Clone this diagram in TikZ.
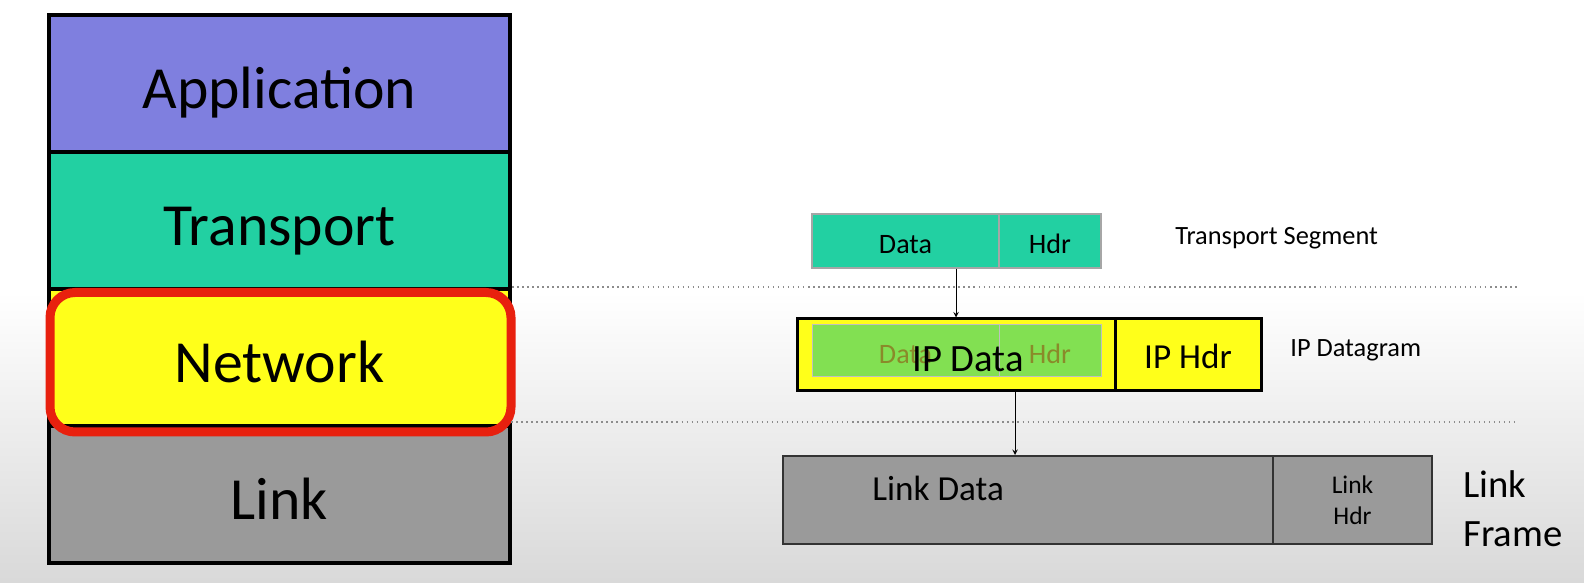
\documentclass[tikz,border=0pt]{standalone}
\usepackage{fontspec}
\setmainfont{Carlito}
\usetikzlibrary{calc}

\definecolor{appblue}{HTML}{7F7FDF}
\definecolor{transgreen}{HTML}{22D0A2}
\definecolor{netyellow}{HTML}{FFFF1A}
\definecolor{linkgray}{HTML}{9A9A9A}
\definecolor{overgreen}{HTML}{82E052}
\definecolor{olive}{HTML}{8A8A2A}
\definecolor{framered}{HTML}{E8200E}

\tikzset{
  layer/.style={rectangle,draw=black,line width=0.85mm,minimum width=92.2mm,minimum height=27.4mm,text height=29pt,text depth=0pt,font=\fontsize{34}{40}\selectfont},
  tseg/.style={rectangle,draw=black!35,line width=0.25mm,fill=transgreen,minimum height=10.8mm,text height=13.8pt,text depth=0pt,font=\fontsize{16}{19}\selectfont},
  ipbox/.style={rectangle,draw=black,line width=0.6mm,fill=netyellow,minimum height=14.4mm,text height=15.5pt,text depth=0pt,font=\fontsize{20}{24}\selectfont},
  over/.style={rectangle,draw=black!25,line width=0.2mm,fill=overgreen,minimum height=10.4mm,text height=13.8pt,text depth=0pt,text=olive,font=\fontsize{16}{19}\selectfont},
  lframe/.style={rectangle,draw=black!80,line width=0.4mm,fill=linkgray,minimum height=17.6mm},
  pdulabel/.style={inner sep=0pt,align=left},
  sep/.style={dotted,black!45,line width=0.3mm},
}

\begin{document}
\begin{tikzpicture}[x=0.2mm,y=-0.2mm]
      \useasboundingbox (0,0) rectangle (1584,583);
      \shade [top color=white,bottom color=black!15,middle color=white] (0,0) rectangle (1584,583);

      % protocol stack
      \node (app) [layer,fill=appblue] at (279.5,83.5) {Application};
      \node (trans) [layer,fill=transgreen] at (279.5,220.5) {Transport};
      \node (link) [layer,fill=linkgray] at (279.5,494.5) {Link};
      \node (net) [layer,fill=netyellow] at (279.5,357.5) {Network};
      \draw [framered,line width=1.8mm,rounded corners=5mm] (50,292.5) rectangle (511,432);

      % layer separators
      \coordinate (s1) at (net.north east);
      \coordinate (s2) at (511,422);
      \draw [sep] (s1) -- ($ (s1)+(1006,0) $);
      \draw [sep] (s2) -- ($ (s2)+(1006,0) $);

      % transport segment
      \node (tdata) [tseg,minimum width=37.4mm] at (905.5,241) {Data};
      \node (thdr) [tseg,minimum width=20.4mm] at (1050,241) {Hdr};
      \node (tlab) [pdulabel,anchor=base west,font=\fontsize{15}{18}\selectfont] at (1175,245) {Transport Segment};

      % ip datagram
      \node (ipdata) [ipbox,minimum width=63.6mm] at (956,355) {};
      \node (iphdr) [ipbox,minimum width=29.2mm] at (1188,355) {IP Hdr};
      \node (odata) [over,minimum width=37.4mm] at (905.5,351) {Data};
      \node (ohdr) [over,minimum width=20.4mm] at (1050,351) {Hdr};
      \node (iptext) [inner sep=0pt,anchor=base,font=\fontsize{22}{26}\selectfont] at (968,372) {IP Data};
      \node (iplab) [pdulabel,anchor=base west,font=\fontsize{15}{18}\selectfont] at (1290,357) {IP Datagram};

      % link frame
      \node (ldata) [lframe,minimum width=98mm] at (1028,500) {};
      \node (lhdr) [lframe,minimum width=31.8mm,align=center,font=\fontsize{14.5}{17.6}\selectfont] at (1352.5,500) {Link\\Hdr};
      \node (ltext) [inner sep=0pt,anchor=base west,font=\fontsize{20}{24}\selectfont] at (872,500) {Link Data};
      \node (llab) [pdulabel,anchor=west,font=\fontsize{22}{27.8}\selectfont] at (1463,509) {Link\\Frame};

      % encapsulation
      \draw [->,>=stealth] (ipdata.north |- tdata.south) -- (ipdata.north);
      \coordinate (a2) at (1015,391);
      \draw [->,>=stealth] (a2) -- (a2 |- ldata.north);
    \end{tikzpicture}
\end{document}
